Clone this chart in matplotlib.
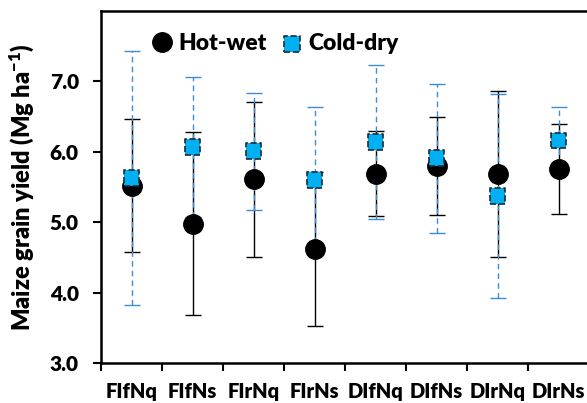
import numpy as np
import matplotlib
matplotlib.use("Agg")
import matplotlib.pyplot as plt

# treatments on the x axis
treatments = ["FIfNq", "FIfNs", "FIrNq", "FIrNs", "DIfNq", "DIfNs", "DIrNq", "DIrNs"]

# Hot-wet season: mean and error
hot_wet = [5.52, 4.98, 5.61, 4.62, 5.69, 5.80, 5.69, 5.76]
hot_wet_err = [0.94, 1.30, 1.10, 1.10, 0.60, 0.70, 1.18, 0.64]

# Cold-dry season: mean and error
cold_dry = [5.63, 6.07, 6.01, 5.60, 6.14, 5.91, 5.37, 6.16]
cold_dry_err = [1.80, 0.99, 0.83, 1.03, 1.10, 1.06, 1.45, 0.48]

plt.rcParams['font.family'] = ['Lato', 'DejaVu Sans']
plt.rcParams['font.weight'] = 'heavy'
plt.rcParams['mathtext.fontset'] = 'custom'
plt.rcParams['mathtext.rm'] = 'Lato:heavy'
plt.rcParams['mathtext.bf'] = 'Lato:heavy'
plt.rcParams['mathtext.default'] = 'rm'

fig = plt.figure(figsize=(5.87, 4.03), dpi=100)
ax = fig.add_axes([101 / 587, 40 / 403, 488 / 587, 352 / 403])

x = np.arange(len(treatments))

# error bars (black solid, then blue dashed)
ax.errorbar(x, hot_wet, yerr=hot_wet_err, fmt='none', ecolor='black',
            elinewidth=1.0, capsize=6, capthick=1.0, zorder=2)
eb = ax.errorbar(x, cold_dry, yerr=cold_dry_err, fmt='none', ecolor='#3C8DD6',
                 elinewidth=1.0, capsize=6, capthick=1.0, zorder=3)
for coll in eb[2]:
    coll.set_linestyle((0, (4, 3)))

# markers
ax.plot(x, hot_wet, 'o', color='black', markersize=14, zorder=4, label='Hot-wet')
ax.scatter(x, cold_dry, marker='s', s=130, facecolor='#00B0F0', edgecolor='#1A2A36',
           linewidths=1.2, linestyles='--', zorder=5, label='Cold-dry')

ax.set_xlim(-0.5, len(treatments) - 0.5)
ax.set_ylim(3.0, 8.0)
ax.set_yticks([3.0, 4.0, 5.0, 6.0, 7.0])
ax.set_yticklabels([f"{v:.1f}" for v in [3.0, 4.0, 5.0, 6.0, 7.0]],
                   fontsize=15, fontweight='heavy')

ax.set_xticks(x)
ax.set_xticklabels(treatments, fontsize=14.5, fontweight='heavy')
ax.tick_params(axis='x', length=0, pad=14)
ax.set_xticks(np.arange(-0.5, len(treatments)), minor=True)
ax.tick_params(axis='x', which='minor', length=6, width=1.5, direction='out')
ax.tick_params(axis='y', length=6, width=1.5, direction='out', pad=10)

for side in ['left', 'bottom', 'top', 'right']:
    ax.spines[side].set_linewidth(1.8)

ax.set_ylabel("Maize grain yield (Mg ha$^{-1}$)", fontsize=17,
              fontweight='heavy', labelpad=10)

ax.legend(loc='upper left', bbox_to_anchor=(0.06, 0.995), ncol=2, frameon=False,
          prop={'size': 16.5, 'weight': 'heavy'}, handletextpad=0.2,
          columnspacing=0.6, handlelength=1.0)

fig.savefig("out.png", dpi=100)
